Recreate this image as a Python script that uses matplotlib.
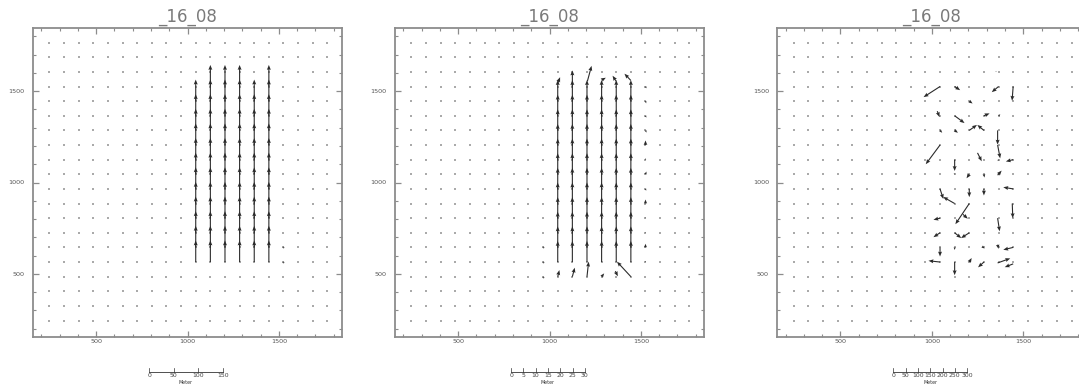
import matplotlib
matplotlib.use("Agg")
import matplotlib.pyplot as plt
import matplotlib.transforms as mtransforms
from matplotlib.ticker import FixedLocator, MultipleLocator

TITLE = "_16_08"
LIMITS = (155, 1845)
# grid positions of the (missing-value) dots, same on both axes
GRID = [245, 325, 405, 485, 565, 645, 725, 805, 885, 965,
        1045, 1125, 1205, 1285, 1365, 1445, 1525, 1605, 1685, 1765]

# panel 1: uniform northward drift in six columns
P1_COLS = [1045, 1125, 1205, 1285, 1365, 1445]
P1_TOP = [1445, 1525, 1525, 1525, 1445, 1525]
P1_ROWS = [565, 645, 725, 805, 885, 965, 1045, 1125, 1205, 1285, 1365, 1445, 1525]
P1_V = 118
P1_DARK_X = [1525, 1525]
P1_DARK_Y = [645, 565]

# panel 2: same columns, slightly shorter, plus odd vectors
P2_COLS = [1045, 1125, 1205, 1285, 1365, 1445]
P2_ROWS = [565, 645, 725, 805, 885, 965, 1045, 1125, 1205, 1285, 1365, 1445]
P2_V = 115
P2_X = [1045, 1125, 1207, 1285, 1365, 1445,
        1045, 1125, 1205, 1285, 1360, 1445,
        1525, 1525, 1525, 1525, 1525, 1525, 1525, 1525, 1525, 1525, 1525, 1525, 1525]
P2_Y = [1544, 1525, 1553, 1560, 1553, 1558,
        485, 485, 485, 485, 515, 485,
        1525, 1445, 1365, 1285, 1205, 1125, 1045, 965, 885, 805, 725, 645, 565]
P2_U = [13, 0, 23, 23, -20, -35,
        9, 13, 9, 14, 14, -76,
        6, 4, 5, 6, 0, 2, 5, 4, 0, 1, 1, 0, 2]
P2_V2 = [32, 88, 85, 13, 31, 37,
         36, 49, 82, 18, -28, 82,
         -10, -12, -10, -12, 25, 8, 15, -10, 22, 5, 5, 20, 6]
P2_DARK_X = [965, 965, 965]
P2_DARK_Y = [645, 565, 485]

# panel 3: scattered vectors
P3_X = [1045, 1125, 1365, 1445, 1205, 1030, 1125, 1285, 1365, 1045,
        1125, 1205, 1285, 1360, 1360, 1045, 1125, 1250, 1445, 1365,
        1125, 1205, 1285, 1360, 1045, 1125, 1205, 1285, 1445, 1205,
        1170, 1045, 1360, 1440, 1045, 1125, 1205, 1045, 1125, 1275,
        1360, 1445, 1045, 1125, 1205, 1285, 1360, 1445, 1350, 1525]
P3_Y = [1525, 1525, 1525, 1525, 1445, 1390, 1365, 1365, 1365, 1285,
        1285, 1285, 1285, 1285, 1205, 1205, 1125, 1162, 1125, 1125,
        1045, 1045, 1045, 1040, 965, 885, 965, 965, 965, 885,
        826, 805, 805, 885, 725, 725, 725, 645, 645, 650,
        660, 645, 565, 565, 565, 565, 560, 555, 1605, 1365]
P3_U = [-90, 30, -37, -6, 18, 12, 54, 31, 10, 12,
        18, 42, -36, 0, 14, -78, 0, 23, -40, -5,
        -5, -15, 3, 22, 18, -63, 0, 0, -54, -76,
        27, -36, 11, 3, -36, 36, -45, 0, 0, 14,
        5, -54, -63, 0, 13, -32, 69, -46, 3, 4]
P3_V = [-58, -20, -31, -78, -13, -32, -40, 13, 8, -13,
        -13, 30, 30, -78, -73, -105, -62, -46, -10, -8,
        5, -22, -18, 25, -55, 36, -45, -36, 9, -113,
        -24, -9, -72, -80, -24, -29, -29, -50, -14, -11,
        -23, -13, 7, -72, 22, -29, 25, -18, 5, 2]

SCALE_LABELS = [[0, 50, 100, 150],
                [0, 5, 10, 15, 20, 25, 30],
                [0, 50, 100, 150, 200, 250, 300]]

FRAME = "#8c8c8c"
DOT = "#aaaaaa"
VEC = "#2a2a2a"


def style_axes(ax):
    ax.set_xlim(*LIMITS)
    ax.set_ylim(*LIMITS)
    for sp in ax.spines.values():
        sp.set_color(FRAME)
        sp.set_linewidth(1.3)
    for axis in (ax.xaxis, ax.yaxis):
        axis.set_major_locator(FixedLocator([500, 1000, 1500]))
        axis.set_minor_locator(MultipleLocator(100))
    ax.tick_params(which="both", direction="in", top=True, right=True,
                   color=FRAME, labelcolor="#555555", labelsize=4.6)
    ax.tick_params(which="major", length=4.2, width=0.9)
    ax.tick_params(which="minor", length=2.2, width=0.8)
    ax.tick_params(axis="x", pad=1.5)
    ax.tick_params(axis="y", pad=6)
    ax.set_title(TITLE, fontsize=12, color="#7a7a7a", pad=4.5)
    gx = [x for x in GRID for _ in GRID]
    gy = [y for _ in GRID for y in GRID]
    ax.scatter(gx, gy, s=0.8, color=DOT, marker="s", linewidths=0, zorder=1)


def vectors(ax, x, y, u, v):
    ax.quiver(x, y, u, v, angles="xy", scale_units="xy", scale=1,
              units="dots", width=1.1, headwidth=3.6, headlength=4.5,
              headaxislength=4.0, color=VEC, zorder=3, minlength=0.3)


def scale_bar(ax, labels):
    x0, length = 790, 403
    trans = mtransforms.blended_transform_factory(ax.transData, ax.transAxes)
    yb = -0.113
    ax.plot([x0, x0 + length], [yb, yb], color="#333333", lw=0.6,
            transform=trans, clip_on=False)
    top = labels[-1]
    for lab in labels:
        xp = x0 + length * lab / top
        ax.plot([xp, xp], [yb, yb + 0.012], color="#333333", lw=0.5,
                transform=trans, clip_on=False)
        ax.text(xp, yb - 0.004, str(lab), ha="center", va="top", fontsize=4.4,
                color="#444444", transform=trans, clip_on=False)
    ax.text(x0 + length / 2, yb - 0.027, "Meter", ha="center", va="top",
            fontsize=3.4, color="#333333", transform=trans, clip_on=False)


fig = plt.figure(figsize=(10.79, 3.87), dpi=100)
lefts = [33 / 1079, 395 / 1079, 777.3 / 1079]
axes = [fig.add_axes([l, 50 / 387, 309 / 1079, 309 / 387]) for l in lefts]

for ax, labels in zip(axes, SCALE_LABELS):
    style_axes(ax)
    scale_bar(ax, labels)

# panel 1
x1, y1, u1, v1 = [], [], [], []
for c, top in zip(P1_COLS, P1_TOP):
    for r in P1_ROWS:
        if r <= top:
            x1.append(c); y1.append(r); u1.append(0); v1.append(P1_V)
vectors(axes[0], x1, y1, u1, v1)
axes[0].scatter(P1_DARK_X, P1_DARK_Y, s=1.5, color="#555555", linewidths=0, zorder=2)

# panel 2
x2, y2, u2, v2 = [], [], [], []
for c in P2_COLS:
    for r in P2_ROWS:
        x2.append(c); y2.append(r); u2.append(0); v2.append(P2_V)
vectors(axes[1], x2 + P2_X, y2 + P2_Y, u2 + P2_U, v2 + P2_V2)
axes[1].scatter(P2_DARK_X, P2_DARK_Y, s=1.5, color="#555555", linewidths=0, zorder=2)

# panel 3
vectors(axes[2], P3_X, P3_Y, P3_U, P3_V)

fig.savefig("out.png", dpi=100)
